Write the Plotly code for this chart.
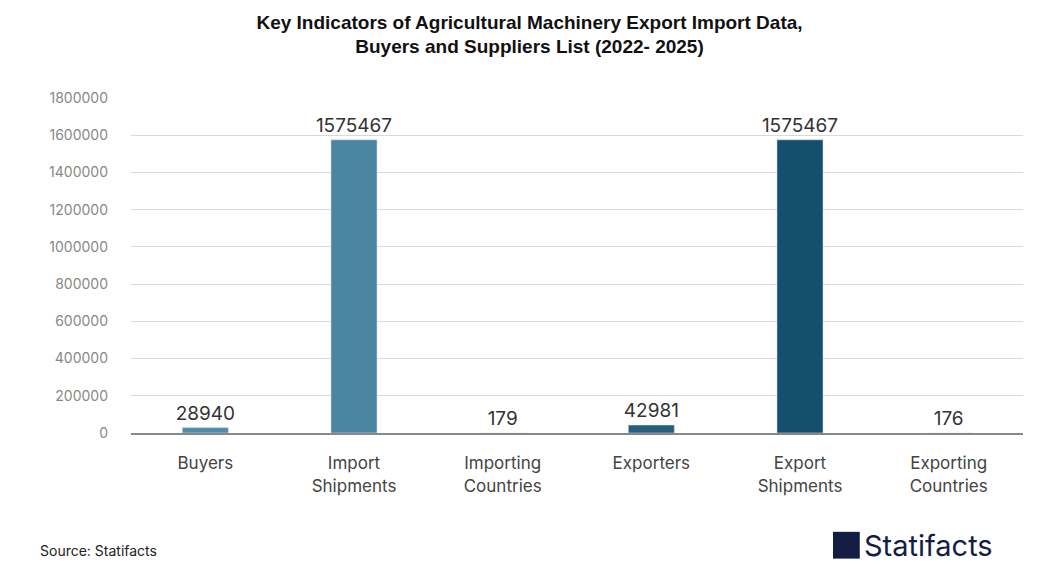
import plotly.graph_objects as go

categories = ["Buyers", "Import<br>Shipments", "Importing<br>Countries", "Exporters", "Export<br>Shipments", "Exporting<br>Countries"]
values = [28940, 1575467, 179, 42981, 1575467, 176]
colors = ["#4f8bab", "#4a85a2", "#3a7592", "#265f7c", "#14506d", "#0f4a66"]
tickvals = list(range(0, 1800001, 200000))

fig = go.Figure(go.Bar(
    x=categories, y=values, marker_color=colors, width=0.31,
    text=[str(v) for v in values], textposition="outside", constraintext="none",
    textfont=dict(size=19, color="#333333", family="Inter, Arial"),
    cliponaxis=False,
))
fig.update_layout(
    width=1043, height=586,
    paper_bgcolor="white", plot_bgcolor="white",
    margin=dict(l=123, r=28, t=90, b=161),
    title=dict(text="<b>Key Indicators of Agricultural Machinery Export Import Data,<br>Buyers and Suppliers List (2022- 2025)</b>",
               x=0.5, xanchor="center", y=0.965, yanchor="top",
               font=dict(size=19, color="#111111", family="Arial")),
    font=dict(family="Inter, Arial", color="#444444"),
    showlegend=False,
    bargap=0.69,
)
fig.update_yaxes(range=[0, 1800000], tickvals=tickvals, ticktext=[str(v) for v in tickvals],
                 gridcolor="#d9d9d9", gridwidth=1, zeroline=False,
                 tickfont=dict(size=14, color="#888888"), ticks="", ticklabelstandoff=22)
fig.update_xaxes(showline=True, linecolor="#888888", linewidth=2,
                 tickfont=dict(size=17, color="#444444"), ticklabelstandoff=14)
fig.add_annotation(text="Source: Statifacts", xref="paper", yref="paper", x=-0.08, y=-0.35,
                   xanchor="left", yanchor="middle", showarrow=False,
                   font=dict(size=14, color="#222222", family="Inter, Arial"),
                   xshift=-22)
fig.add_shape(type="rect", xref="paper", yref="paper", x0=0.787, x1=0.817, y0=-0.375, y1=-0.295,
              fillcolor="#141e45", line_width=0)
fig.add_annotation(text="Statifacts", xref="paper", yref="paper", x=0.82, y=-0.335,
                   xanchor="left", yanchor="middle", showarrow=False,
                   font=dict(size=29, color="#141e45", family="Inter, Arial"))
fig.write_html("out.html")
